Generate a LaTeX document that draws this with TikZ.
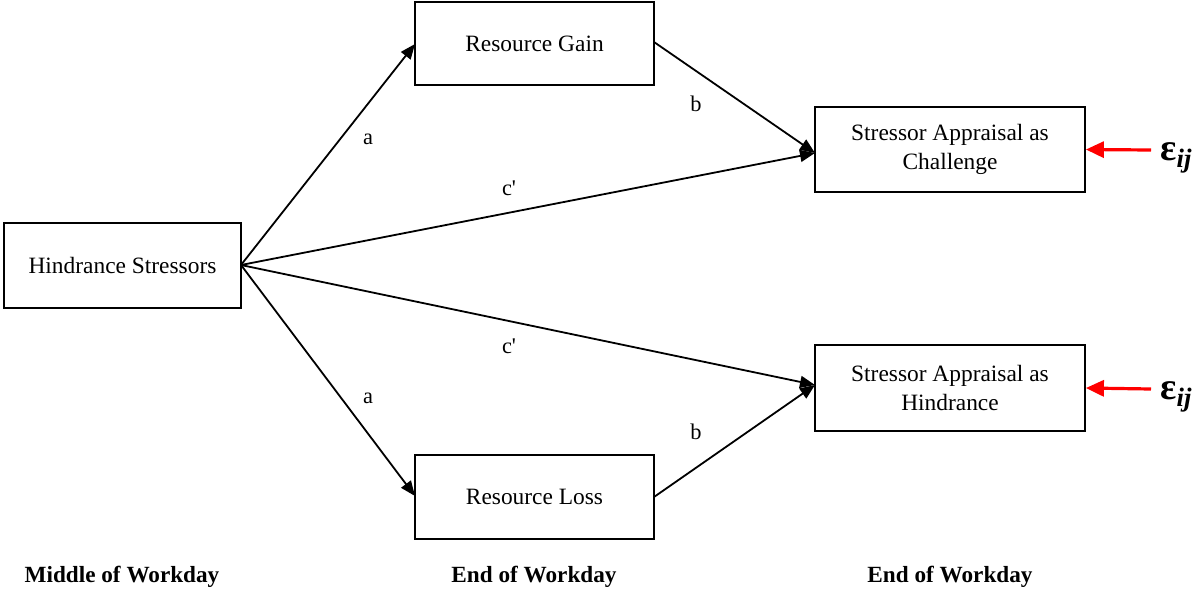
\documentclass[tikz,border=0pt]{standalone}
\usepackage{fontspec}
\setmainfont{Liberation Serif}
\usetikzlibrary{arrows.meta}
\begin{document}
\begin{tikzpicture}[x=0.5pt,y=-0.5pt,
  box/.style={draw,line width=0.9pt,inner sep=0pt,align=center,font=\fontsize{11.7}{14.5}\selectfont},
  path/.style={line width=0.9pt,-{Triangle[length=7.5pt,width=6pt]}},
  err/.style={draw=red,line width=1.6pt,-{Triangle[length=9pt,width=8pt]}},
  lab/.style={font=\fontsize{11.2}{13}\selectfont,inner sep=0pt},
  time/.style={font=\fontsize{11.6}{13}\selectfont\bfseries,inner sep=0pt},
  eps/.style={font=\fontsize{19}{21}\selectfont\bfseries,inner sep=0pt}]
\useasboundingbox (0,0) rectangle (1195,590);
\node[box,minimum width=118.5pt,minimum height=42.5pt] (hs) at (122.5,265.5) {Hindrance Stressors};
\node[box,minimum width=119.5pt,minimum height=41.5pt] (rg) at (534.5,43.5) {Resource Gain};
\node[box,minimum width=119.5pt,minimum height=42pt] (rl) at (534.5,497) {Resource Loss};
\node[box,minimum width=135pt,minimum height=42.5pt] (ch) at (950,149.5) {Stressor Appraisal as\\Challenge};
\node[box,minimum width=135pt,minimum height=43pt] (hi) at (950,388) {Stressor Appraisal as\\Hindrance};
\coordinate (hsE) at (241,265);
\coordinate (rgW) at (415,44);
\coordinate (rlW) at (415,496);
\coordinate (rgE) at (654,42);
\coordinate (rlE) at (654,497);
\coordinate (chW) at (815,153);
\coordinate (hiW) at (815,385);
\draw[path] (hsE) -- (rgW);
\draw[path] (hsE) -- (rlW);
\draw[path] (hsE) -- (chW);
\draw[path] (hsE) -- (hiW);
\draw[path] (rgE) -- (chW);
\draw[path] (rlE) -- (hiW);
\node[lab] (a1) at (368,139) {a};
\node[lab] (a2) at (368,398) {a};
\node[lab] (b1) at (696,104) {b};
\node[lab] (b2) at (696,432) {b};
\node[lab] (c1) at (509,188) {c\textquotesingle};
\node[lab] (c2) at (509,346) {c\textquotesingle};
\coordinate (e1s) at (1151,150);
\coordinate (e2s) at (1151,389);
\draw[err] (e1s) -- (ch.east);
\draw[err] (e2s) -- (hi.east);
\node[eps,anchor=west] (e1) at (1160,158) {ε\textsubscript{\itshape ij}};
\node[eps,anchor=west] (e2) at (1160,397) {ε\textsubscript{\itshape ij}};
\node[time] (t1) at (122,577) {Middle of Workday};
\node[time] (t2) at (534,577) {End of Workday};
\node[time] (t3) at (950,577) {End of Workday};
\end{tikzpicture}
\end{document}
